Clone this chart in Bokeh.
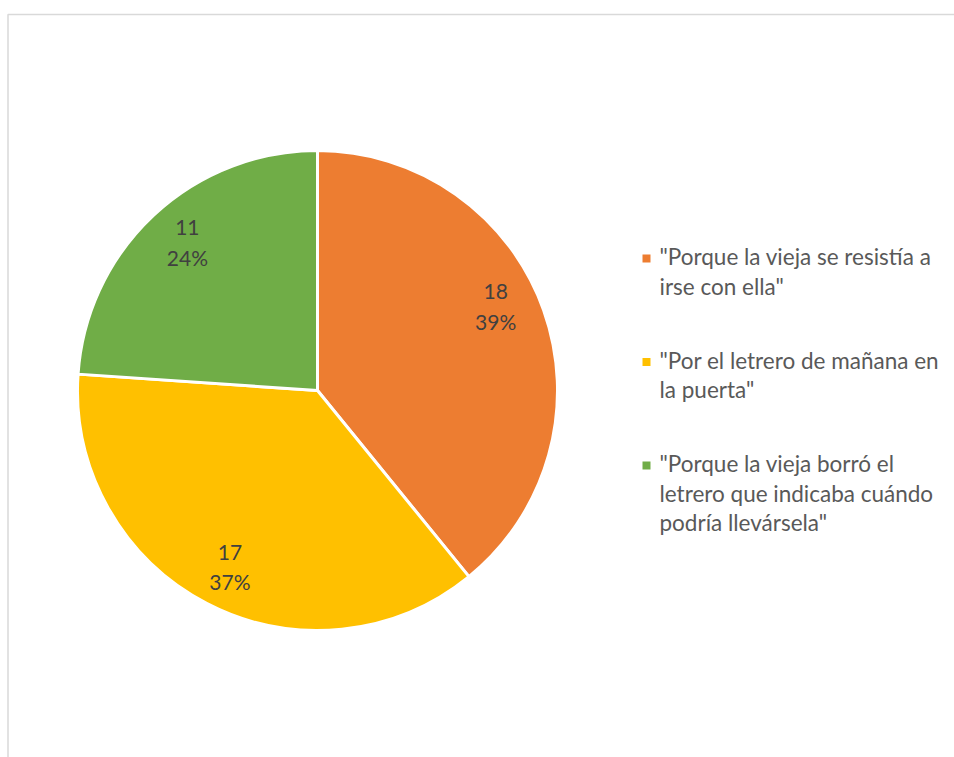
import math
from bokeh.plotting import figure
from bokeh.models import Range1d, ColumnDataSource
from bokeh.core.properties import value
from bokeh.embed import file_html
from bokeh.resources import INLINE

# ---- data ----
categories = [
    '"Porque la vieja se resistía a\nirse con ella"',
    '"Por el letrero de mañana en\nla puerta"',
    '"Porque la vieja borró el\nletrero que indicaba cuándo\npodría llevársela"',
]
counts = [18, 17, 11]
colors = ["#ED7D31", "#FFC000", "#70AD47"]

# ---- layout (pixel-like data units) ----
W, H = 954, 757
CX, CY, R = 317, 367, 240
LABEL_R = 197
LABEL_ANGLE_OFFSET = [5.7, 1.0, -1.7]  # degrees, fine placement
FONT = "Lato"
LINE = 29.5

p = figure(width=W, height=H, x_range=Range1d(0, W), y_range=Range1d(0, H),
           output_backend="svg", toolbar_location=None, min_border=0,
           x_axis_type=None, y_axis_type=None)
p.grid.visible = False
p.outline_line_color = None
p.background_fill_color = "white"
p.border_fill_color = "white"

# chart area border
p.quad(left=[7.5], right=[W + 20], top=[H - 14], bottom=[-20],
       fill_color=None, line_color="#D9D9D9", line_width=1.5)

total = sum(counts)
starts, ends, mids = [], [], []
cum = 0
for c in counts:
    s = math.pi / 2 - cum / total * 2 * math.pi
    e = s - c / total * 2 * math.pi
    starts.append(s); ends.append(e); mids.append((s + e) / 2)
    cum += c

src = ColumnDataSource(dict(x=[CX] * len(counts), y=[CY] * len(counts),
                            start=starts, end=ends, color=colors))
p.wedge(x="x", y="y", radius=R, start_angle="start", end_angle="end",
        direction="clock", fill_color="color", line_color="white",
        line_width=3, source=src)

# data labels
lx, ly, lt = [], [], []
for i, c in enumerate(counts):
    a = mids[i] + math.radians(LABEL_ANGLE_OFFSET[i])
    x = CX + LABEL_R * math.cos(a)
    y = CY + LABEL_R * math.sin(a)
    pct = f"{round(c / total * 100)}%"
    lx += [x, x]
    ly += [y + LINE / 2, y - LINE / 2]
    lt += [str(c), pct]
p.text(x=lx, y=ly, text=lt, text_font=value(FONT), text_font_size="21px",
       text_color="#404040", text_align="center", text_baseline="middle")

# legend
LEG_X = 646
LEG_Y0 = 501
LEG_GAP = 103.5
tx, ty, tt = [], [], []
mx, my = [], []
for i, cat in enumerate(categories):
    y0 = LEG_Y0 - i * LEG_GAP
    mx.append(LEG_X); my.append(y0 - 2)
    for j, line in enumerate(cat.split("\n")):
        tx.append(LEG_X + 13); ty.append(y0 - j * LINE); tt.append(line)
p.scatter(x=mx, y=my, marker="square", size=8, fill_color=colors, line_color=None)
p.text(x=tx, y=ty, text=tt, text_font=value(FONT), text_font_size="22.5px",
       text_color="#595959", text_align="left", text_baseline="middle")

open("out.html", "w").write(file_html(p, INLINE))
